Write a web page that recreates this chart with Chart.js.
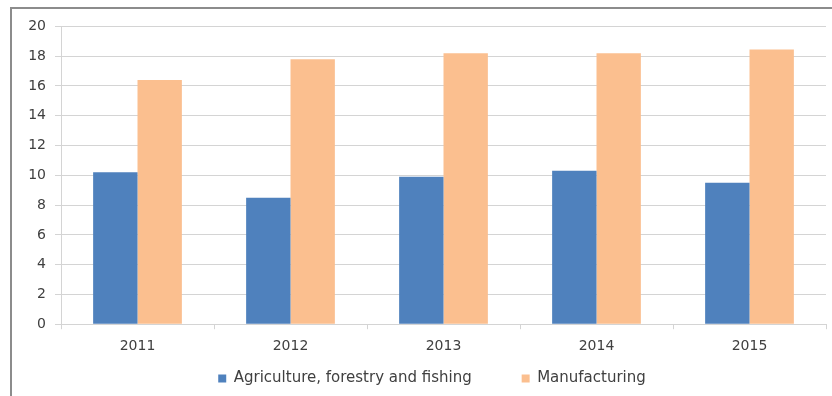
<!DOCTYPE html>
<html>
<head>
<meta charset="utf-8">
<script src="https://cdn.jsdelivr.net/npm/chart.js@4/dist/chart.umd.min.js"></script>
<style>
  html, body { margin: 0; padding: 0; background: #fff; }
  #frame { position: absolute; left: 10px; top: 7px; width: 822px; height: 389px; border-left: 2px solid #8c8c8c; border-top: 2px solid #8c8c8c; box-sizing: border-box; }
  #wrap { position: absolute; left: 0; top: 0; width: 820px; height: 387px; }
</style>
</head>
<body>
<div id="frame"><div id="wrap"><canvas id="chartSecteurs"></canvas></div></div>
<script>
// valeurs
const annees = ['2011', '2012', '2013', '2014', '2015'];
const agriculture = [10.2, 8.5, 9.9, 10.3, 9.5];
const manufacturing = [16.4, 17.8, 18.2, 18.2, 18.45];
const yTicks = [0, 2, 4, 6, 8, 10, 12, 14, 16, 18, 20];

const tickColor = '#404040';
const gridColor = '#d4d4d4';
const police = { family: "'DejaVu Sans', sans-serif", size: 14 };
const policeLegende = { family: "'DejaVu Sans', sans-serif", size: 15 };

// la légende d'origine est un peu décalée vers la droite
const decalageLegende = {
  id: 'decalageLegende',
  afterLayout(chart) {
    if (chart.legend) { chart.legend.left += 13; chart.legend.right += 13; }
  }
};

new Chart(document.getElementById('chartSecteurs'), {
  type: 'bar',
  data: {
    labels: annees,
    datasets: [
      { label: 'Agriculture, forestry and fishing', data: agriculture, backgroundColor: '#4f81bd', categoryPercentage: 0.58, barPercentage: 1.0 },
      { label: 'Manufacturing', data: manufacturing, backgroundColor: '#fbbf8f', categoryPercentage: 0.58, barPercentage: 1.0 }
    ]
  },
  plugins: [decalageLegende],
  options: {
    responsive: true,
    maintainAspectRatio: false,
    animation: false,
    layout: { padding: { top: 16, right: 6, left: 0, bottom: 0 } },
    plugins: {
      tooltip: { enabled: false },
      legend: {
        position: 'bottom',
        labels: {
          color: tickColor, font: policeLegende, boxWidth: 8, boxHeight: 8, padding: 7,
          // écart plus large entre les deux entrées, comme dans Excel
          generateLabels: chart => Chart.defaults.plugins.legend.labels.generateLabels(chart)
            .map((l, i) => i === 0 ? Object.assign(l, { text: l.text + '         ' }) : l)
        }
      }
    },
    scales: {
      x: {
        grid: { display: true, drawOnChartArea: false, drawTicks: true, tickLength: 5, color: gridColor, offset: true },
        border: { color: gridColor },
        ticks: { color: tickColor, font: police, padding: 9 }
      },
      y: {
        min: 0, max: 20,
        afterBuildTicks: axis => { axis.ticks = yTicks.map(v => ({ value: v })); },
        afterFit: axis => { axis.width = 49; },
        grid: { color: gridColor, tickLength: 6 },
        border: { color: gridColor },
        ticks: { color: tickColor, font: police, padding: 9 }
      }
    }
  }
});
</script>
</body>
</html>
